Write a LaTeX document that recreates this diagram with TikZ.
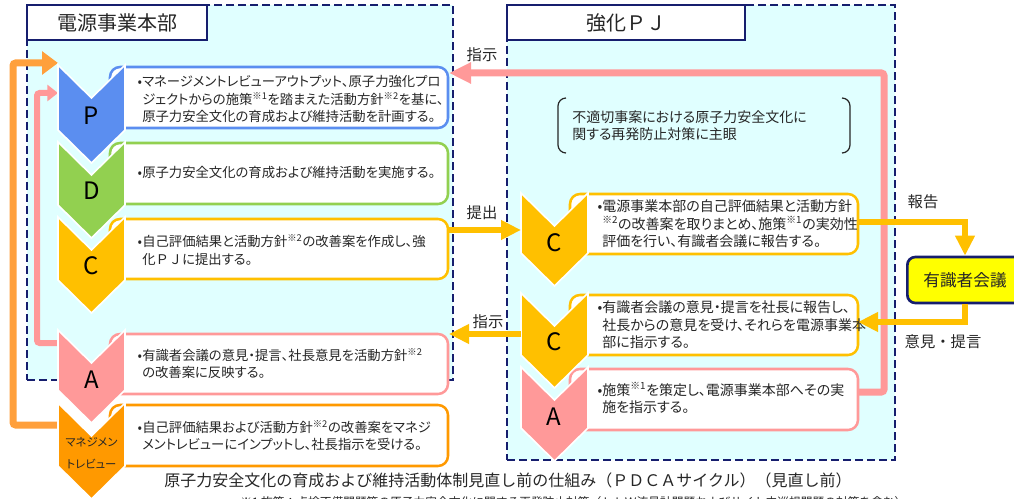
\documentclass[tikz,border=0pt]{standalone}
\usepackage{fontspec}
\setmainfont{Noto Sans CJK JP}
\newfontfamily\bodyfont{Noto Sans CJK JP}[RawFeature=+palt]
\usetikzlibrary{arrows.meta}
\definecolor{navy}{RGB}{22,30,110}
\definecolor{bgc}{RGB}{224,255,255}
\definecolor{pblue}{RGB}{91,142,240}
\definecolor{dgreen}{RGB}{146,208,80}
\definecolor{cyel}{RGB}{255,192,0}
\definecolor{apink}{RGB}{255,153,153}
\definecolor{morange}{RGB}{255,153,0}
\definecolor{loopor}{RGB}{255,160,60}
\definecolor{tcol}{RGB}{38,38,38}
\definecolor{yuuy}{RGB}{255,255,0}
\newcommand\kome[1]{\textsuperscript{※#1}}
\newcommand\chev[4]{%
  \fill[#1,draw=white,line width=1.2pt] (#2,#3) -- ++(33.5,33) -- ++(33.5,-33) -- (#2+67,#4) -- ++(-33.5,33) -- (#2,#4) -- cycle;}
\begin{document}
\begin{tikzpicture}[x=0.75pt,y=-0.75pt,
  region/.style={draw=navy,fill=bgc,line width=2.2pt,dash pattern=on 6pt off 3pt,inner sep=0pt},
  ttl/.style={draw=navy,fill=white,line width=0.8pt,inner sep=0pt,text=tcol,font=\fontsize{15pt}{18pt}\selectfont},
  tbox/.style={fill=white,line width=1.9pt,rounded corners=7.5pt,inner sep=0pt,minimum width=253.5pt},
  rbox/.style={tbox,minimum width=216pt},
  txt/.style={align=left,inner sep=0pt,text=tcol,font=\bodyfont\fontsize{10pt}{13pt}\selectfont},
  rtxt/.style={align=left,inner sep=0pt,text=tcol,font=\bodyfont\fontsize{10.5pt}{13pt}\selectfont},
  lbl/.style={inner sep=0pt,text=tcol,font=\fontsize{11.5pt}{14pt}\selectfont},
  letter/.style={inner sep=0pt,text=black,font=\fontsize{18pt}{20pt}\selectfont},
  yarr/.style={draw=cyel,line width=4.5pt,-{Triangle[length=15pt,width=14pt]}},
  parr/.style={draw=apink,line width=5.25pt,rounded corners=2pt,-{Triangle[length=16.5pt,width=15pt]}},
  oarr/.style={draw=loopor,line width=5.25pt,rounded corners=2pt,-{Triangle[length=12pt,width=17pt]}},
  sparr/.style={draw=apink,line width=4.5pt,rounded corners=2pt,-{Triangle[length=8pt,width=12pt]}}
]
\useasboundingbox (0,0) rectangle (1014,499);
\clip (0,0) rectangle (1014,499);

% regions
\node[region,minimum width=319.5pt,minimum height=281.25pt] (hq) at (240,192.5) {};
\node[region,minimum width=291pt,minimum height=341.25pt] (pj) at (701,232.5) {};
\node[ttl,minimum width=135pt,minimum height=26.25pt] (hqt) at (117,22.5) {電源事業本部};
\node[ttl,minimum width=178.5pt,minimum height=26.25pt] (pjt) at (626,22.5) {強化ＰＪ};

% loops on the left
\coordinate (mrL) at (58,425);
\coordinate (pIn1) at (58,63);
\draw[oarr] (mrL) -- (13,425) -- (13,63) -- (pIn1);
\coordinate (aL) at (58,343);
\coordinate (pIn2) at (58,93);
\draw[sparr] (aL) -- (37,343) -- (37,93) -- (pIn2);

% text boxes left
\node[tbox,draw=pblue,minimum height=45.75pt] (Pb) at (279,97.5) {};
\node[tbox,draw=dgreen,minimum height=45.75pt] (Db) at (279,173.5) {};
\node[tbox,draw=cyel,minimum height=45pt] (Cb) at (279,249) {};
\node[tbox,draw=apink,minimum height=45pt] (Ab) at (279,364) {};
\node[tbox,draw=morange,minimum height=45.75pt] (Mb) at (279,435.5) {};

% text boxes right
\node[rbox,draw=cyel,minimum height=45pt] (C1b) at (714,224) {};
\node[rbox,draw=cyel,minimum height=45pt] (C2b) at (714,325) {};
\node[rbox,draw=apink,minimum height=45.75pt] (A2b) at (714,399.5) {};

% big pink loop
\coordinate (pkS) at (857,392);
\coordinate (pkE) at (449,73);
\draw[parr] (pkS) -- (884,392) -- (884,73) -- (pkE);

% chevrons left
\chev{pblue}{58}{65}{130}
\chev{dgreen}{58}{142}{205}
\chev{cyel}{58}{217}{280}
\chev{apink}{58}{330}{390}
\chev{morange}{58}{403}{466}
% chevrons right
\chev{cyel}{521}{193}{253}
\chev{cyel}{521}{293}{355}
\chev{apink}{521}{367}{428}

\node[letter] (Pl) at (91.5,116) {P};
\node[letter] (Dl) at (91.5,191) {D};
\node[letter] (Cl) at (91.5,266) {C};
\node[letter] (Al) at (91.5,380) {A};
\node[inner sep=0pt,align=center,text=tcol,font=\bodyfont\fontsize{8.5pt}{16pt}\selectfont] (Ml) at (91.5,453) {マネジメン\\トレビュー};
\node[letter] (C1l) at (554,243) {C};
\node[letter] (C2l) at (554,342) {C};
\node[letter] (A2l) at (554,417) {A};

% texts
\node[txt,anchor=west] (Pt) at (142,99) {\llap{•}マネージメントレビューアウトプット、原子力強化プロ\\ジェクトからの施策\kome{1}を踏まえた活動方針\kome{2}を基に、\\原子力安全文化の育成および維持活動を計画する。};
\node[txt,anchor=west] (Dt) at (142,172) {\llap{•}原子力安全文化の育成および維持活動を実施する。};
\node[txt,anchor=west] (Ct) at (142,250) {\llap{•}自己評価結果と活動方針\kome{2}の改善案を作成し、強\\化{\normalfont ＰＪ}に提出する。};
\node[txt,anchor=west] (At) at (142,364) {\llap{•}有識者会議の意見・提言、社長意見を活動方針\kome{2}\\の改善案に反映する。};
\node[txt,anchor=west] (Mt) at (142,436) {\llap{•}自己評価結果および活動方針\kome{2}の改善案をマネジ\\メントレビューにインプットし、社長指示を受ける。};
\node[rtxt,anchor=west] (C1t) at (602,224) {\llap{•}電源事業本部の自己評価結果と活動方針\\\kome{2}の改善案を取りまとめ、施策\kome{1}の実効性\\評価を行い、有識者会議に報告する。};
\node[rtxt,anchor=west] (C2t) at (602,325) {\llap{•}有識者会議の意見・提言を社長に報告し、\\社長からの意見を受け、それらを電源事業本\\部に指示する。};
\node[rtxt,anchor=west] (A2t) at (602,398) {\llap{•}施策\kome{1}を策定し、電源事業本部へその実\\施を指示する。};
\node[rtxt,anchor=west] (brt) at (572,126) {不適切事案における原子力安全文化に\\関する再発防止対策に主眼};
\draw[tcol,line width=0.9pt] (566,98) to[out=180,in=90] (558,106) -- (558,145) to[out=-90,in=180] (566,153);
\draw[tcol,line width=0.9pt] (842,98) to[out=0,in=90] (850,106) -- (850,145) to[out=-90,in=0] (842,153);

% yuushikisha
\node[draw=navy,fill=yuuy,line width=2pt,rounded corners=6pt,minimum width=100pt,minimum height=34.5pt,inner sep=0pt] (yuu) at (974,280) {};
\node[inner sep=0pt,text=tcol,font=\fontsize{12.5pt}{15pt}\selectfont] (yuuT) at (965,280) {有識者会議};

% connectors
\coordinate (tsA) at (448,230);
\coordinate (tsB) at (521,230);
\draw[yarr] (tsA) -- (tsB);
\coordinate (sjA) at (521,334);
\coordinate (sjB) at (449,334);
\draw[yarr] (sjA) -- (sjB);
\coordinate (hkA) at (858,222);
\draw[yarr] (hkA) -| (yuuT |- yuu.north);
\coordinate (ikB) at (858,322);
\draw[yarr] (yuuT |- yuu.south) |- (ikB);

% labels
\node[lbl] (l1) at (482,55) {指示};
\node[lbl] (l2) at (482,213) {提出};
\node[lbl] (l3) at (488,322) {指示};
\node[lbl] (l4) at (923,202) {報告};
\node[lbl] (l5) at (943,342) {意見・提言};

% caption
\node[inner sep=0pt,text=tcol,font=\fontsize{12pt}{14pt}\selectfont] (cap) at (508,480) {原子力安全文化の育成および維持活動体制見直し前の仕組み（ＰＤＣＡサイクル）（見直し前）};
\node[inner sep=0pt,anchor=north west,text=tcol,font=\fontsize{8.8pt}{11pt}\selectfont] (fn) at (240,496) {※1 施策：点検不備問題等の原子力安全文化に関する再発防止対策（ＬＬＷ流量計問題およびサイト内巡視問題の対策を含む）};
\end{tikzpicture}
\end{document}
